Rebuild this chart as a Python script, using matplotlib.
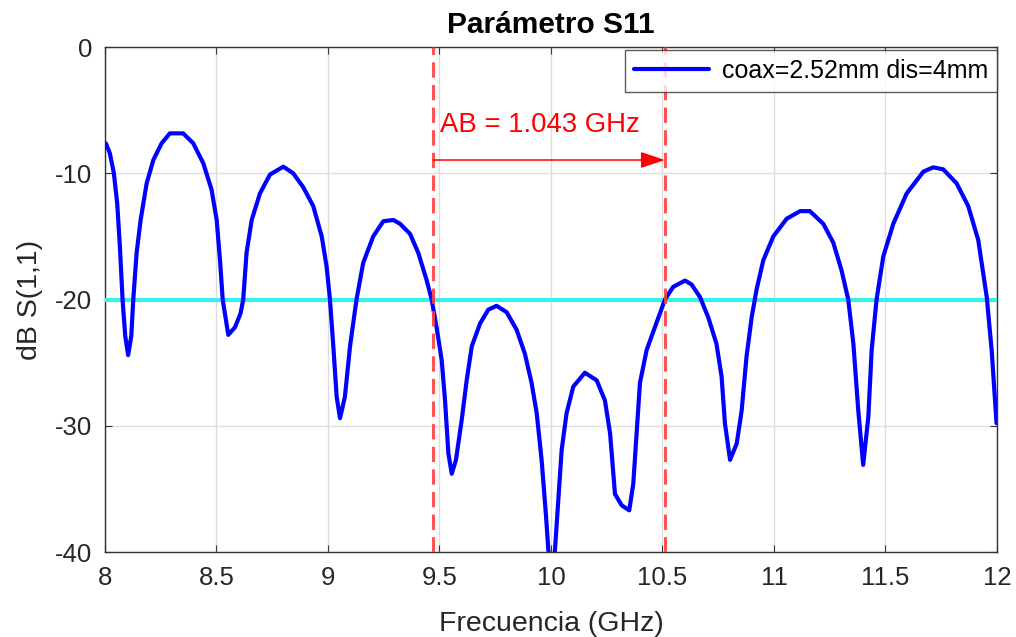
import matplotlib
matplotlib.use("Agg")
import matplotlib.pyplot as plt

plt.rcParams['font.family'] = ['Liberation Sans', 'DejaVu Sans']
plt.rcParams['axes.unicode_minus'] = False

freq_ghz = [8.004, 8.022, 8.040, 8.055, 8.067, 8.079, 8.091, 8.104, 8.118, 8.127, 8.142, 8.160,
            8.187, 8.217, 8.254, 8.291, 8.351, 8.396, 8.441, 8.478, 8.501, 8.516, 8.528, 8.553,
            8.583, 8.608, 8.620, 8.635, 8.658, 8.695, 8.740, 8.800, 8.844, 8.889, 8.934, 8.972,
            8.994, 9.009, 9.024, 9.039, 9.054, 9.076, 9.099, 9.128, 9.158, 9.203, 9.248, 9.293,
            9.323, 9.368, 9.405, 9.443, 9.465, 9.487, 9.510, 9.525, 9.540, 9.555, 9.574, 9.600,
            9.622, 9.645, 9.682, 9.719, 9.756, 9.801, 9.846, 9.883, 9.913, 9.936, 9.958, 9.978,
            9.988, 10.003, 10.018, 10.033, 10.048, 10.070, 10.100, 10.152, 10.205, 10.242, 10.265,
            10.287, 10.317, 10.351, 10.369, 10.384, 10.399, 10.429, 10.466, 10.511, 10.548,
            10.601, 10.630, 10.668, 10.705, 10.742, 10.765, 10.780, 10.803, 10.833, 10.855,
            10.877, 10.900, 10.922, 10.952, 10.997, 11.057, 11.117, 11.161, 11.221, 11.266,
            11.303, 11.333, 11.356, 11.378, 11.400, 11.423, 11.438, 11.460, 11.490, 11.535,
            11.595, 11.670, 11.714, 11.759, 11.819, 11.871, 11.916, 11.954, 11.976, 11.998]
s11_db = [-7.63, -8.42, -10.0, -12.4, -15.8, -20.0, -22.9, -24.4, -22.9, -20.0, -16.3, -13.7,
          -10.8, -8.95, -7.63, -6.84, -6.84, -7.63, -9.21, -11.3, -13.7, -16.9, -20.0, -22.8,
          -22.2, -21.1, -20.0, -16.3, -13.7, -11.6, -10.1, -9.48, -10.0, -11.1, -12.6, -15.0,
          -17.4, -20.0, -23.7, -27.7, -29.4, -27.7, -23.7, -20.0, -17.1, -15.0, -13.8, -13.7,
          -14.0, -14.8, -16.3, -18.5, -20.0, -22.2, -24.8, -28.0, -32.2, -33.8, -32.7, -29.5,
          -26.4, -23.7, -21.9, -20.8, -20.5, -21.0, -22.4, -24.3, -26.6, -29.0, -32.7, -37.2,
          -39.8, -42.0, -39.8, -35.9, -31.9, -29.0, -26.9, -25.8, -26.4, -28.0, -30.6,
          -35.4, -36.3, -36.7, -34.6, -30.6, -26.6, -24.0, -22.2, -20.0, -19.0,
          -18.5, -18.8, -19.8, -21.4, -23.5, -26.1, -29.8, -32.7, -31.4, -28.8,
          -24.5, -21.4, -19.2, -16.9, -15.0, -13.6, -13.0, -13.0, -14.0, -15.5,
          -17.7, -20.0, -23.5, -28.8, -33.1, -29.3, -24.0, -20.0, -16.6, -14.0,
          -11.6, -9.87, -9.53, -9.69, -10.8, -12.6, -15.3, -19.8, -24.0, -29.8]

threshold_db = -20
band_edges = [9.471, 10.511]
band_label = "AB = 1.043 GHz"
series_label = "coax=2.52mm dis=4mm"

fig = plt.figure(figsize=(10.16, 6.37), dpi=100)
ax = fig.add_axes([0.1033, 0.1334, 0.878, 0.7928])

ax.plot(freq_ghz, s11_db, color='#0000FF', lw=3.0, label=series_label, zorder=4,
        solid_joinstyle='round', solid_capstyle='round')
ax.axhline(threshold_db, color='#33F2F2', lw=2.9, zorder=3)
for xe in band_edges:
    ax.axvline(xe, color='#FF4040', lw=2.2, ls=(0, (5, 2.4)), alpha=0.9, zorder=5)

ax.annotate('', xy=(band_edges[1], -8.95), xytext=(band_edges[0], -8.95),
            arrowprops=dict(arrowstyle='-|>,head_length=1.5,head_width=0.5', color='red', lw=1.1,
                            shrinkA=0, shrinkB=0), zorder=6)
ax.text(band_edges[0] + 0.03, -6.2, band_label, color='red', fontsize=19.8, va='center', ha='left')

ax.set_xlim(8, 12)
ax.set_ylim(-40, 0)
ax.set_xticks([8, 8.5, 9, 9.5, 10, 10.5, 11, 11.5, 12])
ax.set_xticklabels(['8', '8.5', '9', '9.5', '10', '10.5', '11', '11.5', '12'])
ax.set_yticks([-40, -30, -20, -10, 0])
ax.grid(True, color='#DDDDDD', lw=1)
ax.set_axisbelow(True)
ax.tick_params(direction='in', labelsize=18.5, top=True, right=True, length=5,
               color='#333333', labelcolor='#262626')
ax.tick_params(axis='x', pad=10)
ax.tick_params(axis='y', pad=9)
for sp in ax.spines.values():
    sp.set_color('#333333')
    sp.set_linewidth(1)

ax.set_xlabel('Frecuencia (GHz)', fontsize=20.5, color='#262626', labelpad=15)
ax.set_ylabel('dB S(1,1)', fontsize=20.5, color='#262626', labelpad=9)
ax.set_title('Parámetro S11', fontsize=21.5, fontweight='bold', pad=10)

leg = ax.legend(loc='upper right', bbox_to_anchor=(1.0, 0.995), fontsize=18, frameon=True,
                fancybox=False, edgecolor='#333333', handlelength=3.0, handletextpad=0.5,
                borderaxespad=0.0, borderpad=0.36)
leg.get_frame().set_linewidth(1)

fig.savefig('out.png', dpi=100)
